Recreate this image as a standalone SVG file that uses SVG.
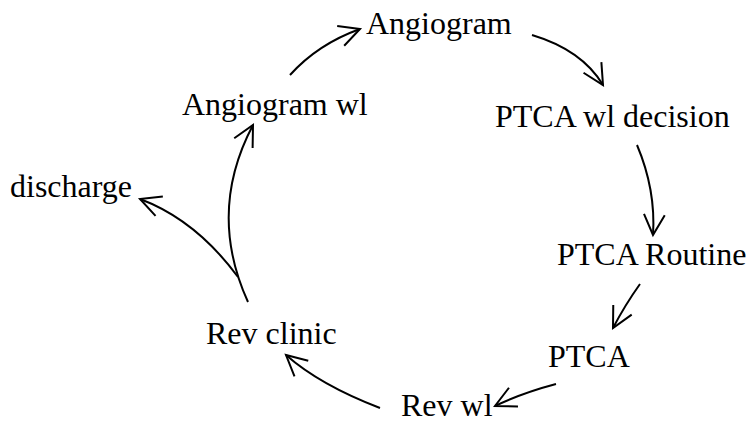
<svg xmlns="http://www.w3.org/2000/svg" width="755" height="424" viewBox="0 0 755 424">
  <style>
    .label { font-family: "Liberation Serif", "Times New Roman", serif; font-size: 32px; fill: #000; }
    .edge { fill: none; stroke: #000; stroke-width: 2; marker-end: url(#arrow); }
  </style>
  <defs>
    <!-- open V arrowhead -->
    <marker id="arrow" markerUnits="userSpaceOnUse" markerWidth="30" markerHeight="30" viewBox="-25 -15 30 30" refX="0" refY="0" orient="auto" overflow="visible">
      <path d="M-20.5,-10.4 L0,0 L-20.5,10.4" fill="none" stroke="#000" stroke-width="2"/>
    </marker>
  </defs>
  <rect width="755" height="424" fill="#fff"/>

  <g id="connectors">
    <path class="edge" d="M290,75 Q318,44 360,29"/>
    <path class="edge" d="M532,35 Q582,50 603,85"/>
    <path class="edge" d="M637,145 Q656,190 653,235"/>
    <path class="edge" d="M640,284 Q625,305 613,328"/>
    <path class="edge" d="M556,384 Q522,393 495,406"/>
    <path class="edge" d="M380,408 Q320,385 286,355"/>
    <path class="edge" d="M248,302 Q207,212 253,125"/>
    <path class="edge" d="M238,277 Q196,220 140,199"/>
  </g>

  <g id="node-angiogram"><text class="label" x="366" y="34">Angiogram</text></g>
  <g id="node-ptca-wl-decision"><text class="label" x="495" y="127">PTCA wl decision</text></g>
  <g id="node-ptca-routine"><text class="label" x="557" y="265">PTCA Routine</text></g>
  <g id="node-ptca"><text class="label" x="548" y="367">PTCA</text></g>
  <g id="node-rev-wl"><text class="label" x="401" y="416">Rev wl</text></g>
  <g id="node-rev-clinic"><text class="label" x="206" y="344">Rev clinic</text></g>
  <g id="node-discharge"><text class="label" x="10" y="197">discharge</text></g>
  <g id="node-angiogram-wl"><text class="label" x="182" y="115">Angiogram wl</text></g>
</svg>
